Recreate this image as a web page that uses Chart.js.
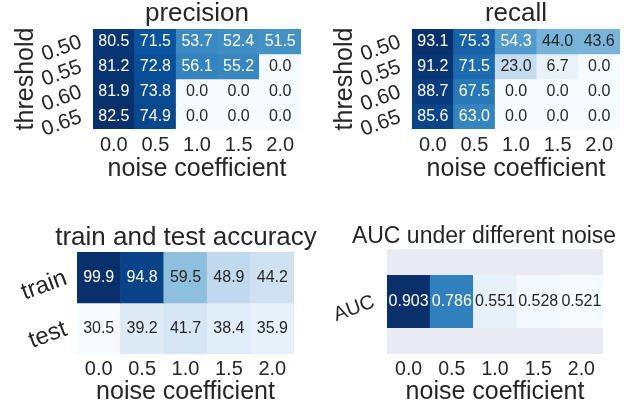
<!DOCTYPE html>
<html>
<head>
<meta charset="utf-8">
<script src="https://cdn.jsdelivr.net/npm/chart.js@4.4.1/dist/chart.umd.min.js"></script>
<style>
  html, body { margin: 0; padding: 0; background: #ffffff; width: 626px; height: 408px; overflow: hidden; }
  canvas { position: absolute; }
</style>
</head>
<body>
<canvas id="precisionChart" width="307" height="189" style="left:0px;top:0px"></canvas>
<canvas id="recallChart" width="307" height="189" style="left:319px;top:0px"></canvas>
<canvas id="accuracyChart" width="372" height="204" style="left:0px;top:204px"></canvas>
<canvas id="aucChart" width="342" height="204" style="left:313px;top:204px"></canvas>
<script>
// ---- data ----
const noiseLevels = ['0.0', '0.5', '1.0', '1.5', '2.0'];
const thresholds = ['0.50', '0.55', '0.60', '0.65'];

// rows follow thresholds, columns follow noiseLevels
const precision = [
  [80.5, 71.5, 53.7, 52.4, 51.5],
  [81.2, 72.8, 56.1, 55.2, 0.0],
  [81.9, 73.8, 0.0, 0.0, 0.0],
  [82.5, 74.9, 0.0, 0.0, 0.0]
];
const recall = [
  [93.1, 75.3, 54.3, 44.0, 43.6],
  [91.2, 71.5, 23.0, 6.7, 0.0],
  [88.7, 67.5, 0.0, 0.0, 0.0],
  [85.6, 63.0, 0.0, 0.0, 0.0]
];

const accuracySplits = ['train', 'test'];
const trainAccuracy = [99.9, 94.8, 59.5, 48.9, 44.2];
const testAccuracy = [30.5, 39.2, 41.7, 38.4, 35.9];

const aucRowLabels = ['AUC'];
const aucValues = [0.903, 0.786, 0.551, 0.528, 0.521];

// ---- styling helpers ----
const FONT = '"Liberation Sans", Arial, Helvetica, sans-serif';
const INK = '#262626';
const BLUES = ['#f7fbff', '#deebf7', '#c6dbef', '#9ecae1', '#6baed6',
               '#4292c6', '#2171b5', '#08519c', '#08306b'];

function hexToRgb(h) {
  return [parseInt(h.slice(1, 3), 16), parseInt(h.slice(3, 5), 16), parseInt(h.slice(5, 7), 16)];
}
const BLUES_RGB = BLUES.map(hexToRgb);

// sequential Blues ramp, t in [0, 1]
function bluesRgb(t) {
  t = Math.max(0, Math.min(1, t));
  const p = t * (BLUES_RGB.length - 1);
  const i = Math.min(BLUES_RGB.length - 2, Math.floor(p));
  const f = p - i;
  const a = BLUES_RGB[i], b = BLUES_RGB[i + 1];
  return a.map((v, k) => v + (b[k] - v) * f);
}
function rgbCss(c) {
  return `rgb(${Math.round(c[0])},${Math.round(c[1])},${Math.round(c[2])})`;
}
function luminance(c) {
  const lin = c.map(v => {
    v = v / 255;
    return v <= 0.03928 ? v / 12.92 : Math.pow((v + 0.055) / 1.055, 2.4);
  });
  return 0.2126 * lin[0] + 0.7152 * lin[1] + 0.0722 * lin[2];
}

// fills the plot area behind the cells
const plotBackground = {
  id: 'plotBackground',
  beforeDatasetsDraw(chart, args, opts) {
    if (!opts.color) return;
    const a = chart.chartArea;
    const ctx = chart.ctx;
    ctx.save();
    ctx.fillStyle = opts.color;
    ctx.fillRect(a.left, a.top, a.right - a.left, a.bottom - a.top);
    ctx.restore();
  }
};

// writes each cell's value in its centre
const cellLabels = {
  id: 'cellLabels',
  afterDatasetsDraw(chart, args, opts) {
    const ctx = chart.ctx;
    ctx.save();
    ctx.font = `${opts.size}px ${FONT}`;
    ctx.textAlign = 'center';
    ctx.textBaseline = 'middle';
    chart.data.datasets.forEach((ds, di) => {
      chart.getDatasetMeta(di).data.forEach((bar, ci) => {
        const c = bar.getCenterPoint();
        ctx.fillStyle = ds.textColors[ci];
        ctx.fillText(ds.values[ci].toFixed(opts.decimals), c.x, c.y);
      });
    });
    ctx.restore();
  }
};

function heatmap(canvasId, cfg) {
  const all = cfg.rows.flat();
  const vmin = Math.min(...all), vmax = Math.max(...all);
  const datasets = cfg.rows.map((vals, r) => {
    const rgbs = vals.map(v => bluesRgb((v - vmin) / (vmax - vmin)));
    return {
      data: vals.map(() => [r, r + 1]),
      values: vals,
      backgroundColor: rgbs.map(rgbCss),
      textColors: rgbs.map(c => (luminance(c) > 0.408 ? INK : '#ffffff')),
      borderWidth: 0,
      barPercentage: 1,
      categoryPercentage: 1,
      grouped: false
    };
  });

  const labelFont = { family: FONT, size: 25, lineHeight: 1.2 };

  const scales = {
    x: {
      type: 'category',
      offset: true,
      grid: { display: false, drawTicks: false },
      border: { display: false },
      ticks: {
        color: INK, font: { family: FONT, size: cfg.xTickSize, lineHeight: 1.2 },
        padding: cfg.xTickPad, minRotation: 0, maxRotation: 0, autoSkip: false
      },
      title: {
        display: true, text: 'noise coefficient', color: INK, font: labelFont,
        padding: { top: 0, bottom: cfg.xTitlePad }
      },
      afterFit(scale) { scale.height = cfg.xHeight; }
    },
    y: {
      type: 'linear',
      reverse: true,
      min: cfg.yMin,
      max: cfg.yMax,
      grid: { display: false, drawTicks: false },
      border: { display: false },
      afterBuildTicks(scale) {
        scale.ticks = cfg.rowLabels.map((_, i) => ({ value: i + 0.5 }));
      },
      ticks: {
        color: INK, font: { family: FONT, size: cfg.yTickSize, lineHeight: 1.2 },
        padding: cfg.yTickPad, minRotation: 20, maxRotation: 20, autoSkip: false,
        callback: (value, index) => cfg.rowLabels[index]
      },
      title: cfg.yTitle
        ? { display: true, text: cfg.yTitle, color: INK, font: labelFont, padding: { top: 11, bottom: 0 } }
        : { display: false },
      afterFit(scale) { scale.width = cfg.yWidth; }
    }
  };
  if (cfg.rightSpace) {
    // empty right-hand axis that only reserves room beside the plot
    scales.spacer = {
      type: 'linear', position: 'right', display: true,
      grid: { display: false, drawTicks: false }, border: { display: false },
      ticks: { display: false }, title: { display: false },
      afterFit(scale) { scale.width = cfg.rightSpace; }
    };
  }

  return new Chart(document.getElementById(canvasId), {
    type: 'bar',
    data: { labels: noiseLevels, datasets },
    plugins: [plotBackground, cellLabels],
    options: {
      responsive: false,
      animation: false,
      devicePixelRatio: 1,
      layout: { padding: cfg.layoutPadding },
      plugins: {
        legend: { display: false },
        tooltip: { enabled: false },
        title: {
          display: true,
          text: cfg.title,
          color: INK,
          fullSize: cfg.titleFullSize,
          font: { family: FONT, size: cfg.titleSize, lineHeight: 1, weight: 'normal' },
          padding: cfg.titlePadding
        },
        plotBackground: { color: cfg.background || null },
        cellLabels: { size: 16, decimals: cfg.decimals }
      },
      scales
    }
  });
}

heatmap('precisionChart', {
  rows: precision, rowLabels: thresholds, title: 'precision', titleSize: 26,
  titleFullSize: false, titlePadding: { top: 1, bottom: 2 },
  yTitle: 'threshold', yWidth: 93, yTickPad: 12, yTickSize: 21, yMin: 0, yMax: thresholds.length,
  layoutPadding: { left: 0, right: 6, top: 0, bottom: 0 },
  xHeight: 60, xTickSize: 20, xTickPad: 4.5, xTitlePad: 5, decimals: 1
});

heatmap('recallChart', {
  rows: recall, rowLabels: thresholds, title: 'recall', titleSize: 26,
  titleFullSize: false, titlePadding: { top: 1, bottom: 2 },
  yTitle: 'threshold', yWidth: 93, yTickPad: 12, yTickSize: 21, yMin: 0, yMax: thresholds.length,
  layoutPadding: { left: 0, right: 6, top: 0, bottom: 0 },
  xHeight: 60, xTickSize: 20, xTickPad: 4.5, xTitlePad: 5, decimals: 1
});

heatmap('accuracyChart', {
  rows: [trainAccuracy, testAccuracy], rowLabels: accuracySplits,
  title: 'train and test accuracy', titleSize: 26,
  titleFullSize: true, titlePadding: { top: 21, bottom: 1 },
  yTitle: null, yWidth: 77, yTickPad: 11, yTickSize: 24, yMin: 0, yMax: accuracySplits.length,
  layoutPadding: { left: 0, right: 0, top: 0, bottom: 0 }, rightSpace: 78,
  xHeight: 54, xTickSize: 20, xTickPad: 3.5, xTitlePad: 1, decimals: 1
});

heatmap('aucChart', {
  rows: [aucValues], rowLabels: aucRowLabels,
  title: 'AUC under different noise', titleSize: 23,
  titleFullSize: true, titlePadding: { top: 21, bottom: 1 },
  yTitle: null, yWidth: 74, yTickPad: 13, yTickSize: 20, yMin: -0.5, yMax: 1.5,
  layoutPadding: { left: 0, right: 0, top: 0, bottom: 0 }, rightSpace: 52,
  xHeight: 54, xTickSize: 19.5, xTickPad: 4, xTitlePad: 1, decimals: 3,
  background: '#eaeaf2'
});
</script>
</body>
</html>
